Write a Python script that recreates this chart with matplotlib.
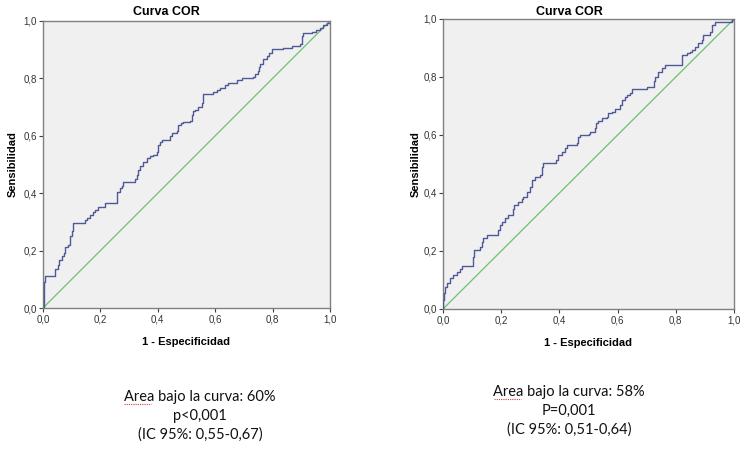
import matplotlib
matplotlib.use("Agg")
import matplotlib.pyplot as plt
from matplotlib.ticker import FuncFormatter
from matplotlib.lines import Line2D

# === Data: ROC points ===
fpr_left = [0, 0.002, 0.005, 0.008, 0.042, 0.052, 0.057, 0.066, 0.072, 0.077, 0.088, 0.094,
            0.1, 0.106, 0.146, 0.152, 0.164, 0.175, 0.181, 0.193, 0.216, 0.257, 0.259, 0.268,
            0.275, 0.28, 0.32, 0.326, 0.332, 0.338, 0.349, 0.361, 0.372, 0.384, 0.396, 0.402,
            0.408, 0.413, 0.443, 0.448, 0.466, 0.472, 0.48, 0.489, 0.512, 0.518, 0.524, 0.53,
            0.541, 0.553, 0.556, 0.559, 0.594, 0.605, 0.617, 0.634, 0.646, 0.675, 0.692, 0.733,
            0.739, 0.75, 0.753, 0.756, 0.768, 0.78, 0.788, 0.797, 0.837, 0.866, 0.895, 0.901,
            0.904, 0.907, 0.936, 0.95, 0.965, 0.975, 0.988, 1.0]
tpr_left = [0, 0.06, 0.09, 0.11, 0.136, 0.15, 0.167, 0.18, 0.19, 0.214, 0.22, 0.25,
            0.27, 0.295, 0.306, 0.313, 0.324, 0.333, 0.341, 0.353, 0.365, 0.39, 0.405, 0.418,
            0.425, 0.44, 0.45, 0.465, 0.481, 0.495, 0.51, 0.522, 0.528, 0.533, 0.545, 0.568,
            0.578, 0.585, 0.6, 0.609, 0.615, 0.638, 0.643, 0.647, 0.652, 0.672, 0.685, 0.69,
            0.702, 0.714, 0.73, 0.746, 0.754, 0.76, 0.766, 0.777, 0.785, 0.794, 0.8, 0.805,
            0.815, 0.826, 0.84, 0.85, 0.867, 0.878, 0.89, 0.901, 0.906, 0.914, 0.921, 0.935,
            0.948, 0.958, 0.962, 0.968, 0.975, 0.985, 0.993, 1.0]

fpr_right = [0, 0.0, 0.003, 0.008, 0.013, 0.024, 0.035, 0.047, 0.058, 0.064, 0.104, 0.107,
             0.127, 0.133, 0.139, 0.15, 0.19, 0.196, 0.202, 0.213, 0.224, 0.242, 0.244, 0.259,
             0.27, 0.276, 0.288, 0.299, 0.305, 0.316, 0.333, 0.339, 0.345, 0.39, 0.396, 0.41,
             0.419, 0.425, 0.46, 0.465, 0.471, 0.5, 0.505, 0.522, 0.526, 0.534, 0.545, 0.562,
             0.568, 0.58, 0.591, 0.608, 0.614, 0.625, 0.631, 0.643, 0.648, 0.7, 0.723, 0.726,
             0.729, 0.74, 0.752, 0.763, 0.82, 0.837, 0.849, 0.855, 0.866, 0.877, 0.889, 0.894,
             0.918, 0.923, 0.935, 0.992, 1.0]
tpr_right = [0, 0.03, 0.054, 0.075, 0.089, 0.106, 0.117, 0.129, 0.137, 0.147, 0.18, 0.203,
             0.213, 0.23, 0.244, 0.255, 0.272, 0.29, 0.301, 0.313, 0.324, 0.345, 0.359, 0.37,
             0.38, 0.387, 0.404, 0.422, 0.445, 0.456, 0.462, 0.491, 0.502, 0.514, 0.531, 0.54,
             0.554, 0.566, 0.571, 0.592, 0.6, 0.603, 0.611, 0.625, 0.64, 0.649, 0.658, 0.663,
             0.675, 0.68, 0.689, 0.705, 0.721, 0.73, 0.738, 0.744, 0.759, 0.764, 0.767, 0.785,
             0.801, 0.818, 0.832, 0.841, 0.876, 0.882, 0.887, 0.893, 0.905, 0.916, 0.928, 0.945,
             0.956, 0.979, 0.99, 0.997, 1.0]

tick_values = [0.0, 0.2, 0.4, 0.6, 0.8, 1.0]

notes_left = ["Area bajo la curva: 60%", "p<0,001", "(IC 95%: 0,55-0,67)"]
notes_right = ["Area bajo la curva: 58%", "P=0,001", "(IC 95%: 0,51-0,64)"]

# === Style ===
BG = "#f0f0f0"
FRAME = "#808080"
ROC_COLOR = "#4f5899"
DIAG_COLOR = "#6cc070"
plt.rcParams["font.family"] = ["Liberation Sans", "DejaVu Sans"]

fig = plt.figure(figsize=(7.5, 4.54), dpi=100)
W, H = 750.0, 454.0


def comma(v, pos):
    return f"{v:.1f}".replace(".", ",")


def roc_panel(rect, fpr, tpr, title_x, ylab_pad):
    ax = fig.add_axes(rect)
    ax.set_facecolor(BG)
    ax.plot([0, 1], [0, 1], color=DIAG_COLOR, lw=0.9, zorder=2)
    ax.plot(fpr, tpr, color=ROC_COLOR, lw=1.0, drawstyle="steps-post", zorder=3)
    ax.set_xlim(0, 1)
    ax.set_ylim(0, 1)
    ax.set_xticks(tick_values)
    ax.set_yticks(tick_values)
    ax.xaxis.set_major_formatter(FuncFormatter(comma))
    ax.yaxis.set_major_formatter(FuncFormatter(comma))
    ax.tick_params(length=3, width=0.8, color="#404040", labelsize=7,
                   labelcolor="#333333", pad=1.5)
    for sp in ax.spines.values():
        sp.set_color(FRAME)
        sp.set_linewidth(1.0)
    ax.set_xlabel("1 - Especificidad", fontsize=8, fontweight="bold", labelpad=9)
    ax.set_ylabel("Sensibilidad", fontsize=8, fontweight="bold", labelpad=ylab_pad)
    fig.text(title_x / W, 1 - 12 / H, "Curva COR", fontsize=9, fontweight="bold",
             ha="center", va="center")
    return ax


ax1 = roc_panel([43 / W, 1 - 308 / H, 287 / W, 287 / H], fpr_left, tpr_left, 166, 4)
ax2 = roc_panel([443 / W, 1 - 309 / H, 291 / W, 290 / H], fpr_right, tpr_right, 569, 2)


def notes(lines, cx, ys):
    for txt, y in zip(lines, ys):
        fig.text(cx / W, 1 - y / H, txt, fontsize=10.5, family=["Lato", "DejaVu Sans"],
                 ha="center", va="center", color="#111111")


notes(notes_left, 200, [397, 416, 435])
notes(notes_right, 569, [392, 411, 430])

# red spell-check squiggle under "Area"
for x0, y0 in [(124, 404), (494, 399)]:
    fig.add_artist(Line2D([x0 / W, (x0 + 27) / W], [1 - y0 / H, 1 - y0 / H],
                          color="#d04040", lw=0.8, ls=(0, (1, 1)), transform=fig.transFigure))

fig.savefig("out.png", dpi=100, facecolor="white")
